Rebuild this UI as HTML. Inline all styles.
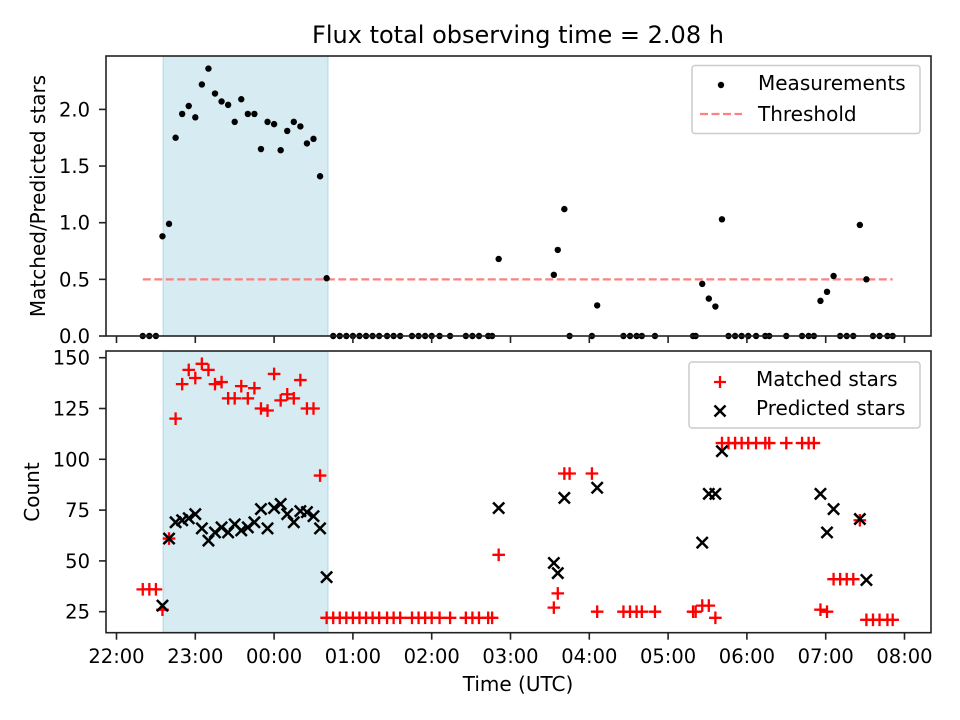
<!DOCTYPE html>
<html><head><meta charset="utf-8"><style>
html,body{margin:0;padding:0;background:#fff;}
svg{display:block;font-family:"DejaVu Sans","Liberation Sans",sans-serif;}
</style></head><body>
<svg id="chart" width="960" height="720" viewBox="0 0 960 720" xmlns="http://www.w3.org/2000/svg"></svg>
<script>
// minutes after 22:00 UTC
const times = [20,25,30,35,40,45,50,55,60,65,70,75,80,85,90,95,100,105,110,115,120,125,130,135,140,145,150,155,160,
 165,170,175,180,185,190,195,200,206,211,216,225,230,235,240,246,254,266,271,276,283,286,
 291,333,336,341,345,362,366,386,391,396,400,410,439,441,446,451,456,461,466,471,476,481,487,494,497,510,522,527,531,
 536,541,546,551,556,561,566,571,576,581,587,591];
const ratioValues = [0,0,0,0.88,0.99,1.75,1.96,2.03,1.93,2.22,2.36,2.14,2.07,2.04,1.89,2.09,1.96,1.96,1.65,1.89,1.87,1.64,1.81,1.89,1.85,1.70,1.74,1.41,0.51,
 0,0,0,0,0,0,0,0,0,0,0,0,0,0,0,0,0,0,0,0,0,0,
 0.68,0.54,0.76,1.12,0,0,0.27,0,0,0,0,0,0,0,0.46,0.33,0.26,1.03,0,0,0,0,0,0,0,0,0,0,0,
 0.31,0.39,0.53,0,0,0,0.98,0.50,0,0,0,0];
const matchedValues = [36,36,36,26,61,120,137,144,140,147,144,137,138,130,130,136,130,135,125,124,142,129,132,130,139,125,125,92,22,
 22,22,22,22,22,22,22,22,22,22,22,22,22,22,22,22,22,22,22,22,22,22,
 53,27,34,93,93,93,25,25,25,25,25,25,25,25,28,28,22,108,108,108,108,108,108,108,108,108,108,108,108,
 26,25,41,41,41,41,70,21,21,21,21,21];
const predictedValues = [null,null,null,28,61,69,70,71,73,66,60,64,66.5,64,68,65,66.5,69,75.5,66,76,78,73,69,74.5,74,72,66,42,
 null,null,null,null,null,null,null,null,null,null,null,null,null,null,null,null,null,null,null,null,null,null,
 76,49,44,81,null,null,86,null,null,null,null,null,null,null,59,83,83,104,null,null,null,null,null,null,null,null,null,null,null,
 83,64,75.5,null,null,null,70.6,40.6,null,null,null,null];
const threshold = 0.5;
const thresholdRange = [20,591];
const goodWindow = [35.5,161];
const xTickLabels = ["22:00","23:00","00:00","01:00","02:00","03:00","04:00","05:00","06:00","07:00","08:00"];
const topTicks = [0,0.5,1.0,1.5,2.0];
const bottomTicks = [25,50,75,100,125,150];

const svg = document.getElementById('chart');
const NS = 'http://www.w3.org/2000/svg';
function el(tag, attrs, parent){const e=document.createElementNS(NS,tag);for(const k in attrs)e.setAttribute(k,attrs[k]);(parent||svg).appendChild(e);return e;}

const L=106, R=931;
const top1=56, bot1=336, top2=351, bot2=632.7;
const FS=19.5;
const xScale = m => 116.5 + 78.8*(m/60);
const y1 = v => 336 - v*113.3;
const y2 = v => 611.7 - (v-25)*2.032;

[[top1,bot1],[top2,bot2]].forEach((p,i)=>{
  const r = el('rect',{x:xScale(goodWindow[0]),y:p[0],width:xScale(goodWindow[1])-xScale(goodWindow[0]),height:p[1]-p[0],fill:'#add8e6','fill-opacity':0.5,stroke:'#add8e6','stroke-width':1});
  
  
});

const th = el('line',{x1:xScale(thresholdRange[0]),x2:xScale(thresholdRange[1]),y1:y1(threshold),y2:y1(threshold),stroke:'#ff8080','stroke-width':2.2,'stroke-dasharray':'8,3.5'});



times.forEach((t,i)=>{
  const c = el('circle',{cx:xScale(t),cy:y1(ratioValues[i]),r:3.2,fill:'#000'});
  
  
});

times.forEach((t,i)=>{
  const x=xScale(t), y=y2(matchedValues[i]);
  const g = el('path',{d:`M${x-6.3} ${y}H${x+6.3}M${x} ${y-6.3}V${y+6.3}`,stroke:'#ff0000','stroke-width':2.3,fill:'none'});
  
  
});
times.forEach((t,i)=>{
  if(predictedValues[i]===null) return;
  const x=xScale(t), y=y2(predictedValues[i]), s=5.6;
  const g = el('path',{d:`M${x-s} ${y-s}L${x+s} ${y+s}M${x-s} ${y+s}L${x+s} ${y-s}`,stroke:'#000','stroke-width':2.5,fill:'none'});
  
  
});

[[top1,bot1,'top-axes-frame'],[top2,bot2,'bottom-axes-frame']].forEach(p=>{
  const r=el('rect',{x:L,y:p[0],width:R-L,height:p[1]-p[0],fill:'none',stroke:'#222','stroke-width':1.6});
  
  
});

xTickLabels.forEach((lab,i)=>{
  const x=xScale(i*60);
  el('line',{x1:x,x2:x,y1:bot1,y2:bot1+7,stroke:'#222','stroke-width':1.6});
  el('line',{x1:x,x2:x,y1:bot2,y2:bot2+7,stroke:'#222','stroke-width':1.6});
  const tx=el('text',{x:x,y:663,'font-size':FS,'text-anchor':'middle',fill:'#000'});
  tx.textContent=lab;
  
  
});
topTicks.forEach(v=>{
  const y=y1(v);
  el('line',{x1:L-7,x2:L,y1:y,y2:y,stroke:'#222','stroke-width':1.6});
  const tx=el('text',{x:L-16,y:y+7,'font-size':FS,'text-anchor':'end',fill:'#000'});
  tx.textContent=v.toFixed(1);
  
  
});
bottomTicks.forEach(v=>{
  const y=y2(v);
  el('line',{x1:L-7,x2:L,y1:y,y2:y,stroke:'#222','stroke-width':1.6});
  const tx=el('text',{x:L-16,y:y+7,'font-size':FS,'text-anchor':'end',fill:'#000'});
  tx.textContent=String(v);
  
  
});
</script>
<script>
(function(){
const svg=document.getElementById('chart');const NS='http://www.w3.org/2000/svg';
function el(tag,attrs){const e=document.createElementNS(NS,tag);for(const k in attrs)e.setAttribute(k,attrs[k]);svg.appendChild(e);return e;}
function txt(x,y,s,fs,name,extra){const t=el('text',Object.assign({x:x,y:y,'font-size':fs,fill:'#000'},extra||{}));t.textContent=s;return t;}
const lg1=el('rect',{x:692,y:65.5,width:228,height:68,rx:3,fill:'#fff','fill-opacity':0.8,stroke:'#ccc','stroke-width':1.5});


el('circle',{cx:721,cy:85,r:3.2,fill:'#000'});
el('line',{x1:700,x2:742,y1:114,y2:114,stroke:'#ff8080','stroke-width':2.2,'stroke-dasharray':'8,3.5'});
const lg2=el('rect',{x:689,y:362,width:231,height:66,rx:3,fill:'#fff','fill-opacity':0.8,stroke:'#ccc','stroke-width':1.5});


el('path',{d:'M714 382H726M720 376V388',stroke:'#f00','stroke-width':2.3,fill:'none'});
el('path',{d:'M714.5 405.5L725.5 416.5M714.5 416.5L725.5 405.5',stroke:'#000','stroke-width':2.5,fill:'none'});
txt(758,90,'Measurements',20,'legend-entry-measurements');
txt(758,121,'Threshold',20,'legend-entry-threshold');
txt(756,386,'Matched stars',20,'legend-entry-matched');
txt(756,415,'Predicted stars',20,'legend-entry-predicted');
txt(518,43,'Flux total observing time = 2.08 h',24,'chart-title',{'text-anchor':'middle'});
txt(518,691,'Time (UTC)',20,'x-axis-title',{'text-anchor':'middle'});
txt(0,0,'Matched/Predicted stars',20,'top-y-axis-title',{'text-anchor':'middle',transform:'translate(45,196) rotate(-90)'});
txt(0,0,'Count',20,'bottom-y-axis-title',{'text-anchor':'middle',transform:'translate(39,492) rotate(-90)'});
})();
</script>
</body></html>
